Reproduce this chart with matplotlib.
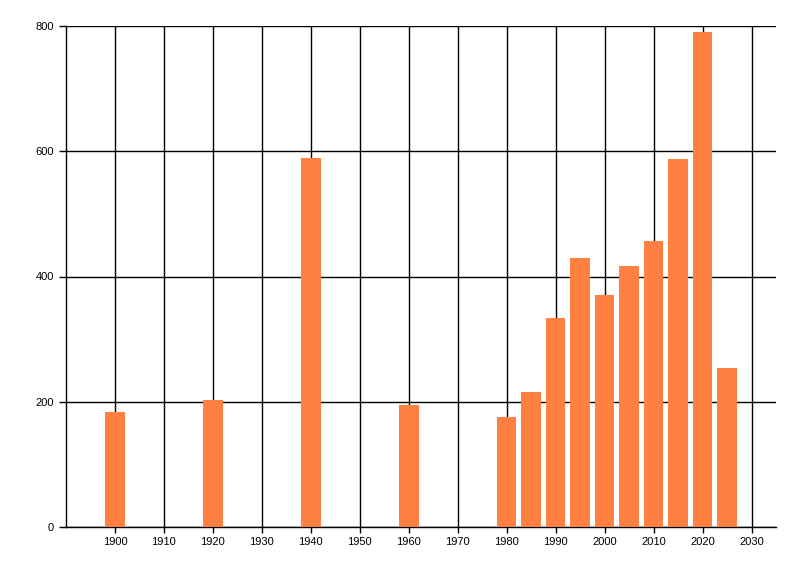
import matplotlib
matplotlib.use("Agg")
import matplotlib.pyplot as plt

# Data
years = [1900, 1920, 1940, 1960, 1980, 1985, 1990, 1995, 2000, 2005, 2010, 2015, 2020, 2025]
counts = [184, 203, 589, 195, 176, 216, 334, 429, 370, 416, 456, 587, 790, 254]
x_ticks = list(range(1900, 2031, 10))
y_ticks = [0, 200, 400, 600, 800]

plt.rcParams['font.family'] = ['Liberation Sans', 'DejaVu Sans']

fig = plt.figure(figsize=(8, 5.76), dpi=100)
ax = fig.add_axes([66 / 800, 1 - 527 / 576, 710 / 800, 501 / 576])

ax.bar(years, counts, width=4, color='#FF8040', zorder=3)

ax.set_xlim(1890, 2035)
ax.set_ylim(0, 800)
ax.set_xticks(x_ticks)
ax.set_yticks(y_ticks)

ax.grid(True, color='black', linewidth=1, zorder=0)
for side in ['top', 'right']:
    ax.spines[side].set_visible(False)
for side in ['left', 'bottom']:
    ax.spines[side].set_linewidth(1)

ax.tick_params(axis='both', labelsize=8, length=5, width=1, color='black')
ax.tick_params(axis='x', length=4)

fig.savefig('out.png', dpi=100)
